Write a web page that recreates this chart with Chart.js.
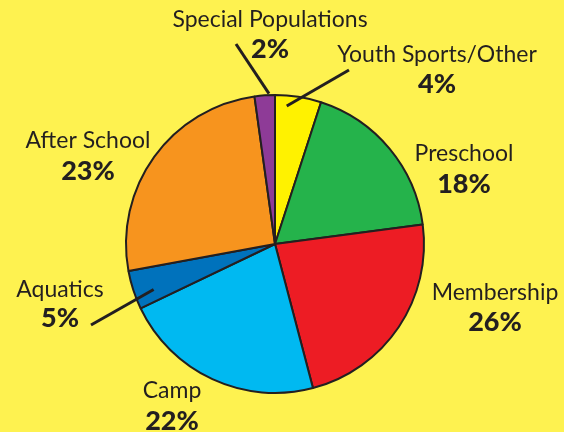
<!DOCTYPE html>
<html>
<head>
<meta charset="utf-8">
<script src="https://cdn.jsdelivr.net/npm/chart.js@4"></script>
<style>
  body { margin: 0; background: #fef250; }
  canvas { display: block; }
</style>
</head>
<body>
<canvas id="GraficoPrograms" width="564" height="432"></canvas>
<script>
// categories, clockwise from 12 o'clock
var categorias = ["Youth Sports/Other", "Preschool", "Membership", "Camp", "Aquatics", "After School", "Special Populations"];
// share of the circle each slice takes in the picture
var fatias = [5.0, 17.9, 23.0, 22.0, 4.2, 25.7, 2.2];
// the printed percentages
var rotulos = ["4%", "18%", "26%", "22%", "5%", "23%", "2%"];
var cores = ["#fff200", "#25b34b", "#ed1c24", "#00b9f1", "#0072bc", "#f7941e", "#8e3b97"];

// where each label sits (center x, name baseline, percent baseline)
var posRotulos = [
    [437, 62, 93],
    [464, 161, 193],
    [495, 300, 331],
    [172, 398, 430],
    [60, 297, 327],
    [88, 148, 180],
    [270, 27, 58]
];
// leader lines: slice index, fraction along slice, radius fraction, outer end
var guias = [
    [6, 0.71, 1.01, 236, 44],
    [0, 0.27, 0.93, 349, 70],
    [4, 0.33, 0.87, 91, 325]
];

var corTexto = "#231f20";

var pluginRotulos = {
    id: 'rotulos',
    beforeDraw: function (chart) {
        var ctx = chart.ctx;
        ctx.save();
        ctx.fillStyle = "#fef250";
        ctx.fillRect(0, 0, chart.width, chart.height);
        ctx.restore();
    },
    afterDraw: function (chart) {
        var ctx = chart.ctx;
        var arcos = chart.getDatasetMeta(0).data;
        ctx.save();
        ctx.strokeStyle = corTexto;
        ctx.lineWidth = 3;
        ctx.lineCap = 'butt';
        guias.forEach(function (g) {
            var a = arcos[g[0]];
            var ang = a.startAngle + g[1] * (a.endAngle - a.startAngle);
            var r = g[2] * a.outerRadius;
            ctx.beginPath();
            ctx.moveTo(a.x + Math.cos(ang) * r, a.y + Math.sin(ang) * r);
            ctx.lineTo(g[3], g[4]);
            ctx.stroke();
        });
        ctx.fillStyle = corTexto;
        ctx.textAlign = 'center';
        ctx.textBaseline = 'alphabetic';
        categorias.forEach(function (nome, i) {
            var p = posRotulos[i];
            ctx.font = "23px Lato";
            ctx.fillText(nome, p[0], p[1]);
            ctx.font = "900 27px Lato";
            ctx.fillText(rotulos[i], p[0], p[2]);
        });
        ctx.restore();
    }
};

new Chart(document.getElementById("GraficoPrograms"), {

    type: 'pie',

    data: {
        labels: categorias,

        datasets: [{
            data: fatias,
            backgroundColor: cores,
            borderColor: "#231f20",
            borderWidth: 2
        }]
    },

    options: {
        responsive: false,
        animation: false,
        layout: {
            padding: { left: 125, right: 139, top: 94, bottom: 38 }
        },
        plugins: {
            legend: { display: false },
            tooltip: { enabled: false }
        }
    },

    plugins: [pluginRotulos]
});
</script>
</body>
</html>
